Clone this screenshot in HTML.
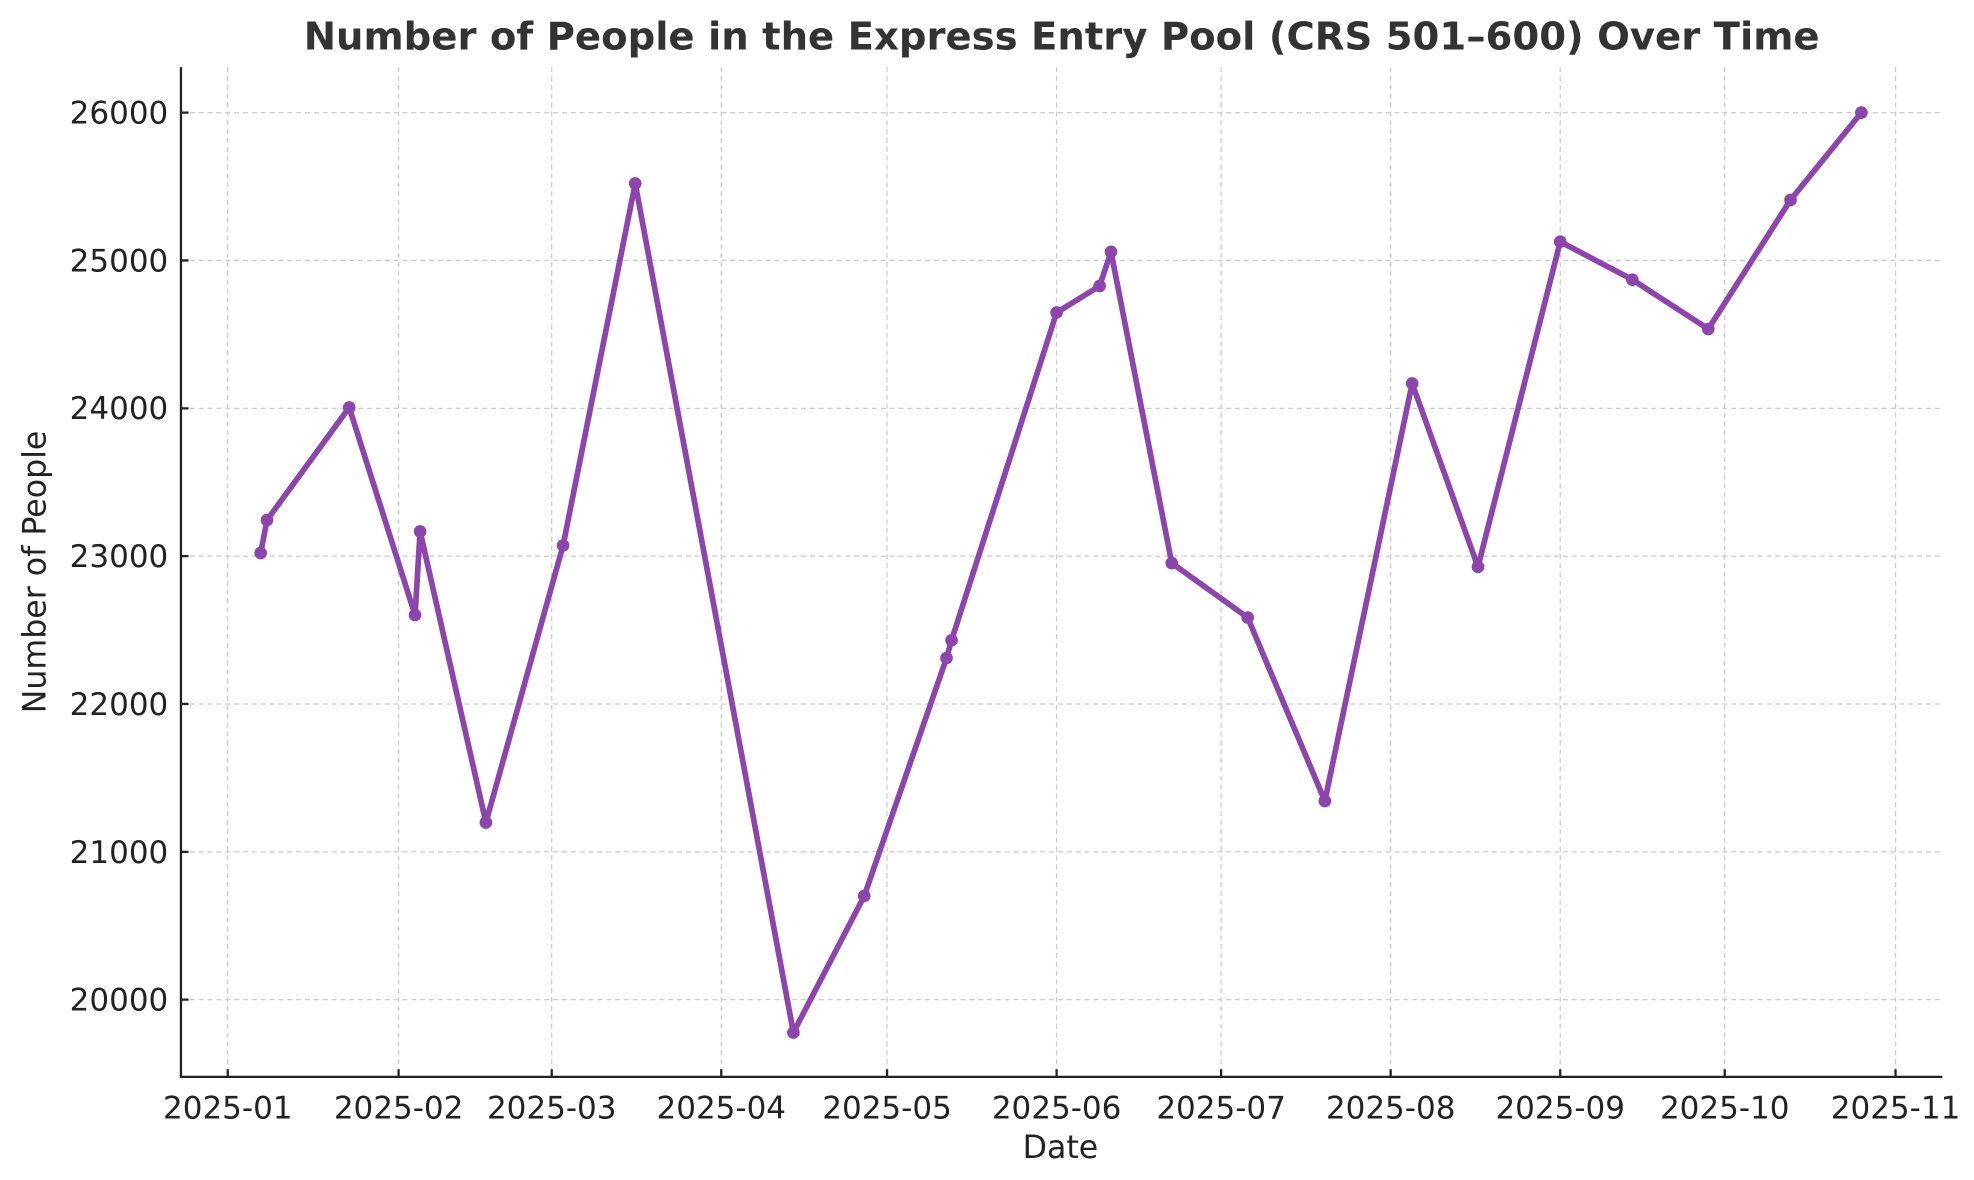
<!DOCTYPE html>
<html><head><meta charset="utf-8"><style>
html,body{margin:0;padding:0;background:#fff;}
svg{display:block;}
text{font-family:"DejaVu Sans","Liberation Sans",sans-serif;}
</style></head><body>
<svg width="1974" height="1180" viewBox="0 0 1560 932.5" xmlns="http://www.w3.org/2000/svg">
<rect width="1560" height="932.5" fill="#fff"/>
<g stroke="#cccccc" stroke-width="1" stroke-dasharray="4,3">
<line x1="180" y1="53" x2="180" y2="851"/><line x1="315" y1="53" x2="315" y2="851"/><line x1="436" y1="53" x2="436" y2="851"/><line x1="570" y1="53" x2="570" y2="851"/><line x1="701" y1="53" x2="701" y2="851"/><line x1="835" y1="53" x2="835" y2="851"/><line x1="965" y1="53" x2="965" y2="851"/><line x1="1099" y1="53" x2="1099" y2="851"/><line x1="1233" y1="53" x2="1233" y2="851"/><line x1="1363" y1="53" x2="1363" y2="851"/><line x1="1498" y1="53" x2="1498" y2="851"/>
<line x1="143" y1="89" x2="1535" y2="89"/><line x1="143" y1="205.8" x2="1535" y2="205.8"/><line x1="143" y1="322.7" x2="1535" y2="322.7"/><line x1="143" y1="439.5" x2="1535" y2="439.5"/><line x1="143" y1="556.3" x2="1535" y2="556.3"/><line x1="143" y1="673.2" x2="1535" y2="673.2"/><line x1="143" y1="790" x2="1535" y2="790"/>
</g>
<g stroke="#222" stroke-width="1.8" fill="none">
<path d="M143,53 V851 H1535"/>
<path d="M180,851v-6M315,851v-6M436,851v-6M570,851v-6M701,851v-6M835,851v-6M965,851v-6M1099,851v-6M1233,851v-6M1363,851v-6M1498,851v-6"/>
<path d="M143,89h6M143,205.8h6M143,322.7h6M143,439.5h6M143,556.3h6M143,673.2h6M143,790h6"/>
</g>
<g font-size="24.5" fill="#222" text-anchor="middle">
<text x="180" y="884">2025-01</text><text x="315" y="884">2025-02</text><text x="436" y="884">2025-03</text><text x="570" y="884">2025-04</text><text x="701" y="884">2025-05</text><text x="835" y="884">2025-06</text><text x="965" y="884">2025-07</text><text x="1099" y="884">2025-08</text><text x="1233" y="884">2025-09</text><text x="1363" y="884">2025-10</text><text x="1498" y="884">2025-11</text>
</g>
<g font-size="24.5" fill="#222" text-anchor="end">
<text x="133" y="97.5">26000</text><text x="133" y="214.5">25000</text><text x="133" y="331">24000</text><text x="133" y="448">23000</text><text x="133" y="565">22000</text><text x="133" y="682">21000</text><text x="133" y="798.5">20000</text>
</g>
<text x="838" y="915" font-size="25" fill="#222" text-anchor="middle">Date</text>
<text transform="translate(36,452) rotate(-90)" font-size="25" fill="#222" text-anchor="middle">Number of People</text>
<text x="839" y="39" font-size="30.5" font-weight="bold" fill="#333" text-anchor="middle">Number of People in the Express Entry Pool (CRS 501–600) Over Time</text>
<polyline fill="none" stroke="#8e44ad" stroke-width="4.5" stroke-linejoin="round" points="206,437 211,411 276,322 328,486 332,420 384,650 445,431 502,145 627,816 683,708 748,520 752,506 835,247 869,226 878,199 926,445 986,488 1047,633 1116,303 1168,448 1233,191 1290,221 1350,260 1415,158 1471,89"/>
<g fill="#8e44ad">
<circle cx="206" cy="437" r="5"/><circle cx="211" cy="411" r="5"/><circle cx="276" cy="322" r="5"/><circle cx="328" cy="486" r="5"/><circle cx="332" cy="420" r="5"/><circle cx="384" cy="650" r="5"/><circle cx="445" cy="431" r="5"/><circle cx="502" cy="145" r="5"/><circle cx="627" cy="816" r="5"/><circle cx="683" cy="708" r="5"/><circle cx="748" cy="520" r="5"/><circle cx="752" cy="506" r="5"/><circle cx="835" cy="247" r="5"/><circle cx="869" cy="226" r="5"/><circle cx="878" cy="199" r="5"/><circle cx="926" cy="445" r="5"/><circle cx="986" cy="488" r="5"/><circle cx="1047" cy="633" r="5"/><circle cx="1116" cy="303" r="5"/><circle cx="1168" cy="448" r="5"/><circle cx="1233" cy="191" r="5"/><circle cx="1290" cy="221" r="5"/><circle cx="1350" cy="260" r="5"/><circle cx="1415" cy="158" r="5"/><circle cx="1471" cy="89" r="5"/>
</g>
</svg>
</body></html>
